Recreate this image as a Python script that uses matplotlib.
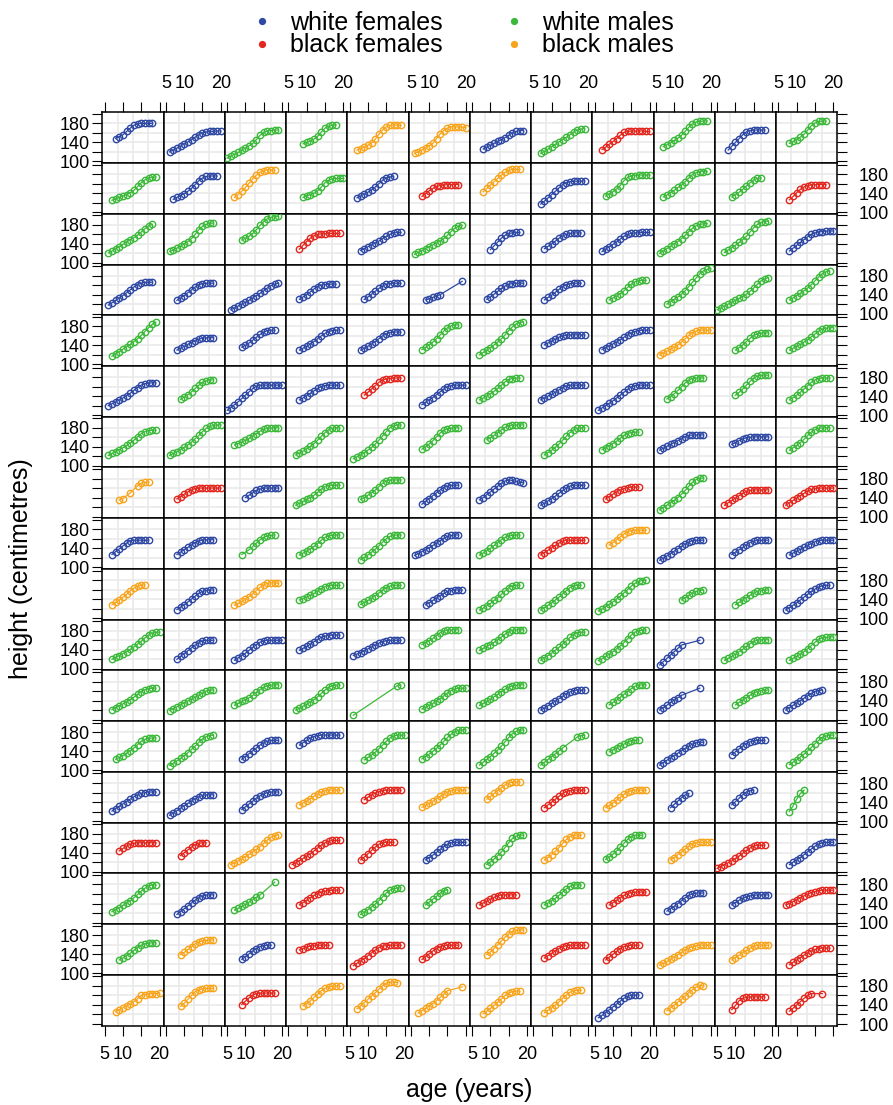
import numpy as np
import matplotlib
matplotlib.use("Agg")
import matplotlib.pyplot as plt

plt.rcParams['font.family'] = ['Liberation Sans', 'DejaVu Sans']

group_names = {"wf": "white females", "bf": "black females",
               "wm": "white males", "bm": "black males"}
group_colors = {"wf": "#2E48A4", "bf": "#E3271E", "wm": "#3CB93A", "bm": "#F8A51D"}

# group of each panel, one string per row (top to bottom)
panel_group = [
    "wf wf wm wm bm bm wf wm bf wm wf wm",
    "wm wf bm wm wf bf bm wf wm wm wm bf",
    "wm wm wm bf wf wm wf wf wf wm wm wf",
    "wf wf wf wf wf wf wf wf wm wm wm wm",
    "wm wf wf wf wf wm wm wf wf bm wm wm",
    "wf wm wf wf bf wf wm wf wf wm wm wm",
    "wm wm wm wm wm wm wm wm wm wf wf wm",
    "bm bf wf wm wm wf wf wf bf wm bf bf",
    "wf wf wm wm wm wf wm bf bm wf wf wf",
    "bm wf bm wm wm wf wm wm wm wm wm wf",
    "wm wf wf wf wf wm wm wm wm wf wm wm",
    "wm wm wm wm wm wm wm wf wm wf wm wf",
    "wm wm wf wf wm wm wm wm wm wf wf wm",
    "wf wf wf bm bf bm bm bf bm wf wf wm",
    "bf bf bm bf bf wf wm bm wm bm bf wf",
    "wm wf wm bf wm wm bf wm bf wf wf bf",
    "wm bm wf bf bf bf bm bf bf bm bm bf",
    "bm bm bf bm bm bm bm bm wf bm bf bf",
]

# age (years) of the first height in each panel
first_age = [
    [8, 6, 5, 9, 7, 6, 8, 7, 7, 7, 8, 8],
    [7, 7, 7, 9, 7, 8, 8, 7, 8, 7, 9, 8],
    [6, 6, 9, 8, 8, 6, 10, 8, 7, 6, 7, 8],
    [6, 8, 6, 8, 9, 9, 9, 8, 9, 8, 5, 8],
    [7, 8, 9, 8, 8, 8, 7, 8, 7, 6, 10, 8],
    [6, 9, 5, 8, 9, 8, 7, 7, 6, 8, 10, 8],
    [6, 6, 7, 7, 6, 8, 9, 8, 7, 6, 9, 8],
    [9, 8, 10, 7, 8, 8, 7, 7, 8, 6, 7, 7],
    [7, 8, 9, 8, 8, 6, 7, 7, 9, 6, 9, 8],
    [7, 8, 7, 8, 8, 9, 7, 7, 6, 12, 10, 7],
    [7, 8, 7, 8, 6, 8, 7, 7, 6, 6, 7, 8],
    [7, 6, 7, 7, 6, 8, 7, 7, 9, 6, 10, 7],
    [8, 6, 9, 8, 9, 8, 7, 7, 9, 6, 9, 8],
    [7, 6, 9, 8, 9, 8, 9, 8, 8, 9, 9, 8],
    [9, 9, 6, 6, 8, 9, 9, 8, 8, 9, 5, 8],
    [7, 8, 7, 8, 8, 9, 7, 8, 9, 8, 9, 7],
    [9, 9, 9, 8, 6, 8, 9, 8, 8, 6, 9, 8],
    [8, 9, 9, 9, 7, 7, 8, 8, 6, 8, 9, 8],
]

# yearly heights (cm) per panel, None = not measured that year
heights = [
    # row 1
    [148, 152, 156, 163, 170, 176, 179, 180, 180, 180, 180],
    [120, 124, 128, 132, 137, 141, 146, 151, 156, 160, 162, 163, 163, 164, 164],
    [107, 111, 115, 119, 124, 128, 133, 138, 146, 155, 161, 164, 165, 166, 166],
    [137, 140, 143, 147, 153, 162, 170, 174, 176, 177],
    [124, 127, 130, 134, 139, 147, 157, 166, 173, 176, 177, 176, 176],
    [117, 120, 124, 128, 133, 138, 148, 158, 165, 170, 173, 173, 172, 172, 171],
    [126, 130, 134, 138, 142, 146, 150, 155, 160, 163, 165, 165],
    [117, 121, 126, 131, 136, 141, 146, 151, 156, 162, 166, 168, 169],
    [125, 130, 136, 142, 148, 155, 161, 163, 164, 164, 164, 164, 163, 163],
    [131, 135, 139, 144, 149, 155, 163, 172, 179, 183, 184, 185, 185],
    [124, 132, 140, 148, 156, 162, 165, 166, 166, 166, 166],
    [138, 142, 146, 151, 157, 166, 175, 181, 184, 185, 185],
    # row 2
    [125, 128, 131, 134, 137, 141, 146, 154, 162, 168, 172, 173, 174],
    [127, 131, 135, 139, 144, 150, 158, 166, 172, 175, 176, 176, 176],
    [131, 137, 144, 152, 161, 170, 178, 184, 187, 189, 189, 188],
    [131, 134, 137, 140, 145, 153, 162, 167, 170, 171, 171, 171],
    [130, 134, 138, 142, 147, 153, 160, 167, 172, 174, 175],
    [133, 139, 145, 150, 154, 156, 157, 158, 158, 158, 158],
    [143, 150, 157, 164, 171, 178, 184, 188, 190, 190, 190],
    [117, 123, 130, 137, 144, 151, 158, 162, 164, 165, 165, 165, 166],
    [134, 138, 143, 149, 156, 166, 173, 176, 177, 178, 178, 178, 178],
    [132, 136, 141, 146, 152, 157, 164, 172, 179, 183, 185, 185, 186],
    [132, 137, 142, 148, 155, 162, 168, 171, 172],
    [126, 133, 141, 148, 153, 156, 157, 158, 158, 158, 158],
    # row 3
    [121, 125, 130, 134, 139, 144, 149, 153, 158, 165, 172, 178, 181],
    [124, 127, 131, 135, 140, 145, 151, 160, 170, 177, 181, 183, 184],
    [148, 152, 156, 162, 170, 179, 187, 193, 196, 197, 198],
    [129, 137, 145, 152, 157, 160, 161, 161, 162, 162, 162, 162],
    [126, 130, 134, 138, 142, 146, 151, 156, 160, 163, 164, 164],
    [118, 122, 126, 130, 134, 138, 142, 146, 151, 158, 166, 173, 177, 179],
    [128, 136, 144, 152, 158, 162, 163, 164, 164],
    [130, 135, 140, 146, 152, 157, 160, 162, 163, 163, 163],
    [124, 129, 134, 139, 144, 150, 156, 160, 162, 163, 163, 164, 164, 164],
    [120, 125, 130, 135, 140, 145, 151, 158, 166, 173, 178, 181, 182, 183],
    [122, 127, 132, 137, 143, 149, 156, 165, 174, 181, 185, 187, 188],
    [125, 131, 137, 143, 149, 155, 160, 163, 165, 166, 167, 167, 167],
    # row 4
    [118, 123, 128, 133, 138, 144, 150, 156, 161, 164, 166, 166, 166],
    [128, 133, 138, 144, 150, 156, 161, 163, 164, 164, 164],
    [108, 112, 116, 120, 124, 128, 133, 138, 143, 148, 154, 159, 162, 164],
    [130, 135, 140, 146, 152, 157, 160, 161, 162, 162, 162],
    [130, 135, 141, 147, 153, 158, 162, 163, 164, 164, 164],
    [129, 131, 134, 137, 140, None, None, None, None, None, 168],
    [130, 135, 141, 147, 153, 158, 162, 163, 164, 164, 164],
    [129, 134, 139, 145, 151, 157, 161, 163, 164, 164, 164],
    [129, 133, 137, 142, 148, 155, 162, 167, 169, 170, 170],
    [120, 125, 130, 135, 141, 148, 157, 166, 175, 184, 190, 193, 195],
    [108, 112, 116, 120, 124, 128, 132, 136, 141, 147, 154, 162, 169, 173, 176],
    [129, 133, 138, 143, 148, 154, 161, 169, 177, 184, 188, 190],
    # row 5
    [117, 122, 127, 132, 137, 142, 148, 154, 161, 169, 177, 184, 189],
    [130, 134, 138, 142, 146, 150, 153, 155, 156, 156, 156],
    [136, 140, 145, 151, 157, 163, 168, 171, 172, 172],
    [130, 134, 138, 143, 148, 154, 160, 165, 169, 171, 172, 172],
    [130, 134, 138, 143, 148, 154, 160, 164, 167, 168, 168, 168],
    [131, 136, 141, 147, 154, 162, 170, 177, 181, 183, 183],
    [120, 125, 130, 135, 141, 147, 154, 162, 171, 179, 185, 188, 189],
    [141, 145, 149, 153, 157, 160, 161, 162, 162, 162, 162, 162],
    [131, 135, 139, 143, 147, 152, 157, 162, 166, 169, 171, 172, 172, 172],
    [120, 124, 128, 132, 136, 141, 147, 154, 161, 167, 170, 172, 172, 172, 172],
    [130, 135, 141, 148, 155, 161, 164, 166, 166, 166],
    [130, 134, 138, 142, 147, 152, 158, 164, 170, 174, 176, 177, 177],
    # row 6
    [120, 124, 128, 132, 136, 141, 146, 152, 158, 163, 166, 167, 168, 168],
    [133, 138, 143, 149, 156, 163, 169, 172, 174, 174],
    [110, 116, 122, 128, 135, 142, 149, 156, 161, 163, 163, 163, 163, 163, 163, 163],
    [132, 136, 141, 146, 151, 156, 160, 162, 163, 163, 163, 163],
    [142, 148, 155, 162, 169, 174, 176, 177, 178, 178, 178],
    [122, 127, 132, 137, 143, 149, 155, 160, 162, 163, 163, 163, 163],
    [132, 136, 140, 145, 150, 156, 163, 170, 175, 177, 178, 178],
    [132, 136, 140, 144, 148, 153, 158, 161, 163, 163, 163, 163, 163],
    [110, 115, 120, 125, 130, 136, 142, 148, 154, 159, 162, 163, 163, 163, 163],
    [134, 139, 145, 152, 160, 168, 174, 177, 178, 178, 178],
    [142, 148, 155, 163, 171, 178, 182, 184, 184, 184],
    [132, 137, 142, 148, 155, 162, 169, 174, 177, 178, 178, 178],
    # row 7
    [122, 126, 130, 134, 138, 143, 148, 154, 161, 168, 172, 174, 175, 175],
    [122, 126, 130, 134, 139, 144, 150, 157, 164, 172, 179, 183, 185, 186, 186],
    [144, 147, 150, 154, 158, 163, 168, 173, 177, 179, 180, 180, 180],
    [123, 127, 131, 136, 141, 147, 154, 162, 170, 176, 179, 180, 180],
    [115, 119, 123, 128, 133, 139, 146, 154, 163, 172, 180, 184, 186, 186],
    [135, 140, 146, 153, 161, 169, 175, 178, 179, 180, 180],
    [155, 159, 164, 170, 176, 181, 184, 185, 186, 186, 186],
    [123, 128, 133, 139, 146, 154, 162, 170, 176, 179, 180, 180],
    [134, 138, 142, 147, 152, 158, 164, 168, 170, 171, 171],
    [133, 137, 141, 145, 149, 153, 157, 161, 164, 165, 165, 165, 165],
    [145, 149, 153, 157, 159, 160, 161, 161, 161, 161, 161],
    [133, 138, 143, 149, 156, 164, 171, 176, 179, 180, 180, 180],
    # row 8
    [135, 138, None, 150, None, 165, 170, 172, 173],
    [137, 142, 147, 152, 156, 159, 160, 160, 160, 160, 160, 160, 160],
    [140, 145, 150, 155, 158, 160, 160, 160, 160, 160],
    [124, 128, 132, 136, 140, 145, 151, 158, 163, 165, 166, 166, 166],
    [136, 140, 145, 150, 156, 163, 170, 175, 177, 177, 177, 177],
    [126, 132, 138, 144, 150, 156, 161, 164, 166, 166, 166],
    [135, 140, 146, 152, 158, 164, 170, 175, 177, 176, 174, 172, 171],
    [124, 128, 133, 138, 143, 149, 155, 160, 164, 166, 166, 166, 166],
    [137, 142, 147, 152, 156, 159, 161, 162, 162, 162],
    [114, 119, 124, 129, 134, 140, 147, 155, 164, 172, 178, 181, 181],
    [124, 129, 134, 139, 144, 149, 153, 155, 156, 156, 156, 156, 156],
    [124, 129, 134, 139, 144, 149, 154, 157, 159, 160, 160, 160, 160, 160],
    # row 9
    [127, 133, 139, 145, 151, 156, 157, 157, 157, 157, 157],
    [127, 132, 137, 142, 147, 152, 156, 157, 158, 158, 158],
    [127, None, 137, 144, 151, 158, 163, 166, 167, 168],
    [126, 130, 134, 139, 144, 150, 157, 163, 166, 167, 168, 168],
    [116, 121, 126, 132, 138, 145, 153, 160, 165, 167, 168, 168],
    [125, 129, 133, 137, 141, 146, 151, 156, 161, 165, 167, 168, 168],
    [126, 130, 135, 140, 146, 152, 158, 163, 166, 167, 168, 168],
    [126, 131, 136, 141, 146, 151, 155, 157, 157, 157, 157, 157, 157],
    [147, 152, 158, 164, 170, 175, 177, 178, 178, 178, 178],
    [115, 119, 124, 129, 134, 139, 144, 149, 153, 156, 157, 157, 157],
    [127, 132, 137, 142, 147, 152, 155, 157, 157, 157, 157],
    [126, 130, 134, 138, 142, 146, 150, 154, 156, 157, 157, 157, 157],
    # row 10
    [128, 133, 138, 144, 150, 157, 163, 167, 169, 170],
    [118, 123, 128, 134, 140, 146, 152, 156, 158, 159, 159],
    [127, 131, 135, 140, 145, 151, 158, 165, 170, 173, 174, 174, 173],
    [138, 141, 144, 148, 152, 157, 162, 166, 168, 169, 169, 169],
    [129, 133, 137, 142, 147, 153, 159, 164, 167, 169, 169, 169],
    [128, 132, 137, 142, 147, 152, 156, 158, 159, 159, 159],
    [117, 121, 126, 131, 137, 143, 150, 157, 164, 168, 169, 169],
    [117, 122, 127, 132, 138, 144, 151, 158, 164, 168, 169, 169],
    [115, 119, 124, 129, 134, 140, 146, 153, 160, 167, 173, 177, 179, 180],
    [138, 143, 148, 153, 156, 158, 159],
    [128, 133, 138, 143, 148, 153, 156, 158, 159, 159],
    [117, 122, 127, 132, 138, 144, 150, 156, 161, 165, 168, 169, 169],
    # row 11
    [120, 124, 128, 132, 136, 141, 146, 152, 158, 165, 171, 175, 177, 177],
    [120, 126, 132, 138, 144, 150, 155, 159, 160, 160, 160],
    [118, 123, 128, 133, 139, 145, 151, 156, 159, 160, 160, 160, 160, 160],
    [139, 143, 147, 152, 157, 162, 166, 169, 170, 171, 171, 171],
    [128, 131, 134, 138, 142, 146, 150, 154, 157, 159, 160, 160, 160, 160],
    [151, 155, 159, 164, 170, 176, 180, 181, 182, 182, 182],
    [139, 143, 147, 151, 156, 161, 167, 173, 178, 181, 182, 182, 182],
    [118, 123, 128, 133, 139, 145, 152, 159, 166, 172, 176, 177, 177],
    [117, 121, 126, 131, 136, 142, 148, 155, 163, 171, 177, 180, 181, 182],
    [108, 115, 122, 129, 136, 143, 150, None, None, None, None, 160],
    [118, 122, 126, 131, 136, 141, 147, 153, 158, 160, 161, 161, 161],
    [118, 122, 126, 131, 136, 142, 149, 156, 162, 165, 166, 167, 167],
    # row 12
    [121, 125, 129, 133, 137, 142, 147, 153, 159, 163, 165, 166, 166],
    [119, 123, 127, 131, 135, 139, 143, 147, 151, 156, 160, 162, 162],
    [130, 134, 138, 142, 146, 151, 157, 163, 168, 171, 172, 173, 173],
    [120, 124, 128, 132, 137, 142, 148, 155, 162, 168, 171, 172, 173],
    [109, None, None, None, None, None, None, None, None, None, None, None, 171, 173],
    [122, 126, 130, 134, 139, 144, 150, 156, 161, 164, 166, 166, 166],
    [130, 134, 138, 143, 148, 153, 159, 164, 168, 171, 172, 173, 173],
    [120, 124, 129, 134, 139, 144, 149, 154, 158, 161, 162, 162, 162],
    [131, 136, 141, 147, 153, 159, 165, 170, 172, 173, 173],
    [120, 125, 130, 136, 141, 146, 151, None, None, None, None, 166],
    [131, 136, 141, 146, 151, 156, 159, 161, 162, 162],
    [120, 125, 130, 135, 140, 145, 150, 155, 159, 161, 162],
    # row 13
    [123, 127, 131, 136, 141, 147, 154, 161, 165, 167, 168, 168],
    [110, 115, 120, 125, 131, 137, 144, 151, 159, 166, 171, 173, 174],
    [123, 129, 135, 141, 147, 153, 158, 161, 163, 163, 163],
    [153, 158, 163, 168, 171, 173, 174, 174, 174, 174, 174, 174],
    [122, 127, 132, 138, 145, 153, 161, 168, 172, 174, 174, 174],
    [124, 129, 134, 140, 146, 153, 161, 169, 176, 181, 184, 185, 185],
    [111, 117, 123, 129, 136, 143, 151, 160, 169, 177, 182, 184, 185],
    [111, 117, 123, 129, 135, 141, 147, None, None, None, 170, 173, 174],
    [139, 143, 147, 151, 155, 159, 162, 163, 164],
    [111, 116, 121, 126, 131, 136, 141, 146, 151, 155, 158, 159, 159],
    [133, 139, 145, 151, 156, 160, 162, 163, 163, 163],
    [112, 117, 122, 128, 134, 141, 148, 156, 163, 169, 172, 174, 174],
    # row 14
    [121, 126, 131, 136, 141, 146, 151, 155, 158, 160, 161, 161, 161],
    [112, 117, 122, 127, 132, 137, 142, 147, 151, 154, 155, 155, 155],
    [124, 130, 136, 142, 148, 153, 157, 160, 161, 161, 161],
    [134, 138, 142, 147, 152, 157, 161, 164, 165, 165, 165, 165],
    [145, 150, 155, 159, 162, 164, 165, 165, 165, 165, 165],
    [129, 133, 137, 142, 147, 152, 157, 161, 164, 165, 165, 165, 165],
    [146, 152, 158, 164, 170, 176, 180, 182, 182, 182],
    [128, 134, 140, 146, 152, 158, 162, 164, 165, 165, 165, 165],
    [128, 133, 138, 144, 150, 156, 161, 164, 165, 165, 165, 165],
    [128, 135, 142, 149, 155, 158],
    [134, 141, 148, 155, 161, 164, 165],
    [120, 132, 146, 158, 165],
    # row 15
    [144, 149, 154, 158, 160, 161, 161, 161, 161, 161, 161],
    [134, 140, 146, 152, 157, 160, 161, 161],
    [115, 119, 123, 127, 132, 137, 142, 147, 153, 160, 167, 173, 176, 177],
    [115, 119, 123, 128, 133, 138, 144, 150, 156, 161, 164, 166, 166, 166],
    [125, 131, 138, 145, 152, 158, 161, 162, 162, 162],
    [125, 130, 135, 141, 147, 153, 158, 161, 162, 162, 162, 162],
    [115, 121, 127, 134, 142, 151, 161, 170, 175, 177, 177],
    [125, 130, 136, 143, 151, 160, 168, 174, 177, 177, 177],
    [126, 131, 137, 144, 152, 160, 168, 174, 177, 177, 177],
    [125, 130, 136, 142, 148, 154, 159, 161, 162, 162, 162, 162],
    [107, 111, 115, 119, 123, 128, 133, 139, 145, 150, 154, 156, 156, 156],
    [115, 120, 125, 130, 136, 142, 148, 154, 158, 161, 162, 162, 162],
    # row 16
    [123, 127, 131, 136, 141, 146, 152, 159, 166, 172, 177, 179, 179],
    [117, 123, 129, 135, 141, 147, 152, 156, 158, 158, 158],
    [126, 130, 134, 138, 143, 148, 153, 158, None, None, None, 185],
    [137, 142, 147, 152, 157, 161, 164, 166, 167, 168, 168, 168],
    [117, 122, 127, 133, 139, 146, 154, 162, 168, 171, 172, 173],
    [137, 143, 149, 155, 162, 167, 169],
    [137, 141, 145, 149, 153, 156, 158, 158, 158, 158, 158],
    [137, 141, 146, 151, 157, 164, 171, 176, 179, 179, 179],
    [137, 142, 147, 152, 157, 161, 163, 164, 164, 164, 164],
    [124, 129, 134, 140, 146, 152, 157, 160, 162, 162, 162],
    [137, 142, 147, 151, 154, 156, 157, 158, 158, 158, 158],
    [137, 140, 144, 148, 152, 156, 160, 163, 165, 167, 168, 168, 168, 168],
    # row 17
    [128, 132, 137, 142, 148, 154, 159, 162, 163, 164, 164],
    [139, 144, 150, 156, 162, 166, 168, 169, 170, 170],
    [129, 135, 141, 147, 152, 156, 158, 159, 159],
    [149, 152, 155, 157, 158, 159, 159, 159, 159],
    [116, 121, 126, 131, 137, 143, 149, 154, 157, 158, 159, 159, 159, 159],
    [129, 135, 141, 147, 152, 156, 158, 159, 159, 159, 159],
    [139, 145, 152, 160, 168, 176, 183, 188, 190, 191, 191],
    [132, 137, 142, 147, 152, 156, 158, 159, 159, 159, 159, 159],
    [128, 134, 140, 146, 152, 156, 158, 159, 159, 159],
    [117, 121, 125, 129, 134, 139, 144, 149, 153, 156, 158, 159, 159, 159, 159],
    [128, 133, 138, 143, 148, 153, 157, 159, 159, 159, 159],
    [118, 123, 128, 133, 138, 143, 147, 150, 152, 153, 153, 153],
    # row 18
    [126, 130, 134, 138, 142, 147, 153, 160, 162, 163, 164, 164, 165],
    [137, 144, 152, 160, 168, 172, 174, 175, 175, 175],
    [141, 148, 155, 161, 164, 165, 165, 165, 165, 165],
    [138, 143, 149, 156, 163, 170, 175, 178, 179, 180, 180],
    [132, 138, 145, 152, 159, 166, 173, 180, 186, 188, 188, 187],
    [123, 128, 133, 138, 143, 149, 156, 163, 170, None, None, None, 178],
    [122, 127, 133, 139, 146, 153, 160, 165, 168, 169, 169],
    [124, 129, 134, 140, 147, 154, 161, 167, 170, 171, 171],
    [113, 118, 124, 130, 136, 142, 148, 154, 158, 160, 161, 161],
    [128, 134, 140, 146, 152, 159, 166, 172, 178, 181, 180],
    [130, 139, 149, 154, 156, 157, 157, 157, 157, 157],
    [127, 133, 140, 147, 154, 160, 164, None, None, 164],
]

age_ticks = [5, 10, 15, 20]
age_ticklabels = ["5", "10", "", "20"]
height_ticks = [100, 120, 140, 160, 180, 200]
height_ticklabels = ["100", "", "140", "", "180", ""]

W, H = 893, 1105
left, top, pw, ph = 102.3, 112.3, 61.25, 50.74
xlim = (4.35, 21.1)
ylim = (96.6, 203.3)
nrow, ncol = 18, 12

fig = plt.figure(figsize=(W / 100, H / 100), dpi=100)

for r in range(nrow):
    codes = panel_group[r].split()
    for c in range(ncol):
        i = r * ncol + c
        ax = fig.add_axes([(left + c * pw) / W, 1 - (top + (r + 1) * ph) / H, pw / W, ph / H])
        ax.set_xlim(*xlim)
        ax.set_ylim(*ylim)
        # light reference grid
        for gx in np.linspace(xlim[0], xlim[1], 5)[1:-1]:
            ax.axvline(gx, color="#E8E8E8", lw=1.1, zorder=0)
        for gy in [120, 140, 160, 180]:
            ax.axhline(gy, color="#E8E8E8", lw=1.1, zorder=0)

        hs = heights[i]
        ages = [first_age[r][c] + k for k in range(len(hs)) if hs[k] is not None]
        vals = [h for h in hs if h is not None]
        col = group_colors[codes[c]]
        ax.plot(ages, vals, "-o", color=col, lw=0.9, ms=4.6, mfc="none", mew=1.0, zorder=3)

        for s in ax.spines.values():
            s.set_linewidth(1.1)
        ax.set_xticks(age_ticks)
        ax.set_xticklabels(age_ticklabels)
        ax.set_yticks(height_ticks)
        ax.set_yticklabels(height_ticklabels)
        ax.tick_params(direction="out", length=7.2, width=0.8, labelsize=13,
                       top=(r == 0), bottom=(r == nrow - 1),
                       labeltop=(r == 0 and c % 2 == 1),
                       labelbottom=(r == nrow - 1 and c % 2 == 0),
                       left=(c == 0), right=(c == ncol - 1),
                       labelleft=(c == 0 and r % 2 == 0),
                       labelright=(c == ncol - 1 and r % 2 == 1))
        ax.tick_params(axis="x", pad=7.5)
        ax.tick_params(axis="y", which="both", pad=1.5)
        if c == ncol - 1:
            ax.tick_params(axis="y", pad=8)

# legend and axis titles in pixel coordinates
ov = fig.add_axes([0, 0, 1, 1], zorder=10)
ov.set_xlim(0, W)
ov.set_ylim(H, 0)
ov.axis("off")
legend_pos = {"wf": (262, 21), "bf": (262, 44), "wm": (514, 21), "bm": (514, 44)}
for code, (lx, ly) in legend_pos.items():
    ov.plot([lx], [ly], "o", color=group_colors[code], ms=4.2)
    ov.text(lx + 28, ly + 8.5, group_names[code], fontsize=18, va="baseline", ha="left")

ov.text(469.5, 1097, "age (years)", fontsize=18, ha="center", va="baseline")
ov.text(21, 569, "height (centimetres)", fontsize=18, ha="center", va="center", rotation=90)

fig.savefig("out.png", dpi=100)
